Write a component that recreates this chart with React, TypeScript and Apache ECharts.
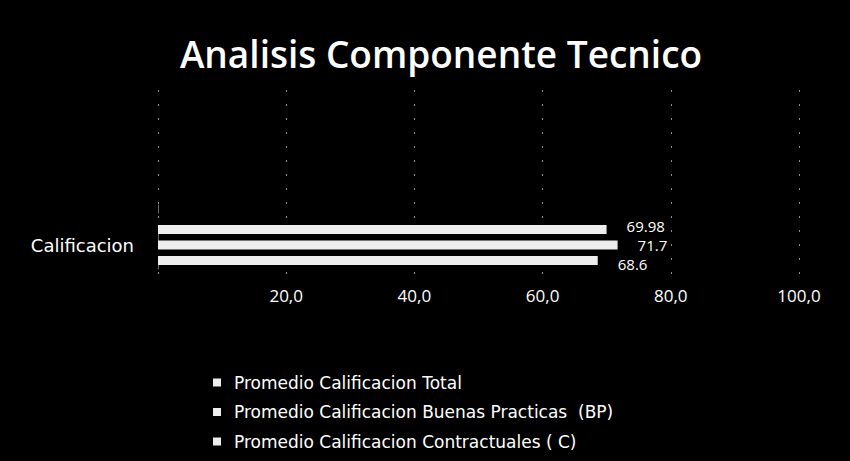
import React, { useEffect, useRef } from "react";
import * as echarts from "echarts";

const titleText = "Analisis Componente Tecnico";
const categories = ["Calificacion"];
const seriesNames = [
  "Promedio Calificacion Total",
  "Promedio Calificacion Buenas Practicas  (BP)",
  "Promedio Calificacion Contractuales ( C)",
];
const totalValues = [69.98];
const bpValues = [71.7];
const cValues = [68.6];
const axisMin = 0;
const axisMax = 100;
const axisInterval = 20;

const FONT = "'Open Sans', 'Noto Sans', sans-serif";
const WIDE = "'DejaVu Sans', 'Open Sans', sans-serif";

export default function App() {
  const ref = useRef<HTMLDivElement>(null);
  useEffect(() => {
    if (!ref.current) return;
    const chart = echarts.init(ref.current, null, { renderer: "svg" });
    const fmt = (v: number) => v.toFixed(1).replace(".", ",");
    const makeLabel = (dy: number) => ({
      show: true,
      position: "right",
      distance: 20,
      offset: [0, dy],
      color: "#ffffff",
      fontFamily: FONT,
      fontSize: 15,
      lineHeight: 14,
      formatter: (p: any) => String(p.value),
    });
    const barStyle = { color: "#eeeeee" };
    chart.setOption({
      animation: false,
      backgroundColor: "#000000",
      title: {
        text: titleText,
        left: 436,
        top: 30,
        textAlign: "center",
        textStyle: {
          color: "#ffffff",
          fontFamily: FONT,
          fontSize: 37,
          fontWeight: 600,
        },
      },
      legend: {
        data: seriesNames,
        orient: "vertical",
        left: 213,
        top: 374,
        padding: 0,
        itemWidth: 8,
        itemHeight: 8,
        itemGap: 12.5,
        icon: "rect",
        textStyle: {
          color: "#ffffff",
          fontFamily: WIDE,
          fontSize: 17,
          padding: [0, 0, 0, 8],
        },
      },
      grid: [
        { left: 158, right: 51, top: 205, bottom: 176, containLabel: false },
        { left: 158, right: 51, top: 90, bottom: 176, containLabel: false },
      ],
      xAxis: [
        {
          type: "value",
          gridIndex: 0,
          min: axisMin,
          max: axisMax,
          interval: axisInterval,
          axisLine: { show: false },
          axisTick: { show: false },
          splitLine: { show: false },
          axisLabel: {
            color: "#ffffff",
            fontFamily: FONT,
            fontSize: 17,
            margin: 2,
            showMinLabel: false,
            formatter: fmt,
          },
        },
        {
          type: "value",
          gridIndex: 1,
          min: axisMin,
          max: axisMax,
          interval: axisInterval,
          axisLine: { show: false },
          axisTick: { show: false },
          axisLabel: { show: false },
          splitLine: {
            show: true,
            lineStyle: { color: "#8a8a8a", width: 1, type: [2, 12] },
          },
        },
      ],
      yAxis: [
        {
          type: "category",
          gridIndex: 0,
          data: categories,
          inverse: true,
          axisLine: { show: true, lineStyle: { color: "#666666", width: 1, type: [8, 20] } },
          axisTick: { show: false },
          axisLabel: {
            color: "#ffffff",
            fontFamily: WIDE,
            fontSize: 18,
            margin: 24,
          },
        },
        {
          type: "value",
          gridIndex: 1,
          show: false,
        },
      ],
      series: [
        {
          name: seriesNames[0],
          type: "bar",
          data: totalValues,
          barWidth: 9,
          barGap: "72%",
          itemStyle: barStyle,
          label: makeLabel(-4),
        },
        {
          name: seriesNames[1],
          type: "bar",
          data: bpValues,
          barWidth: 9,
          barGap: "72%",
          itemStyle: barStyle,
          label: makeLabel(0),
        },
        {
          name: seriesNames[2],
          type: "bar",
          data: cValues,
          barWidth: 9,
          barGap: "72%",
          itemStyle: barStyle,
          label: makeLabel(4),
        },
      ],
    });
    return () => chart.dispose();
  }, []);
  return (
    <div
      ref={ref}
      style={{ position: "fixed", left: 0, top: 0, width: 850, height: 461 }}
    />
  );
}
